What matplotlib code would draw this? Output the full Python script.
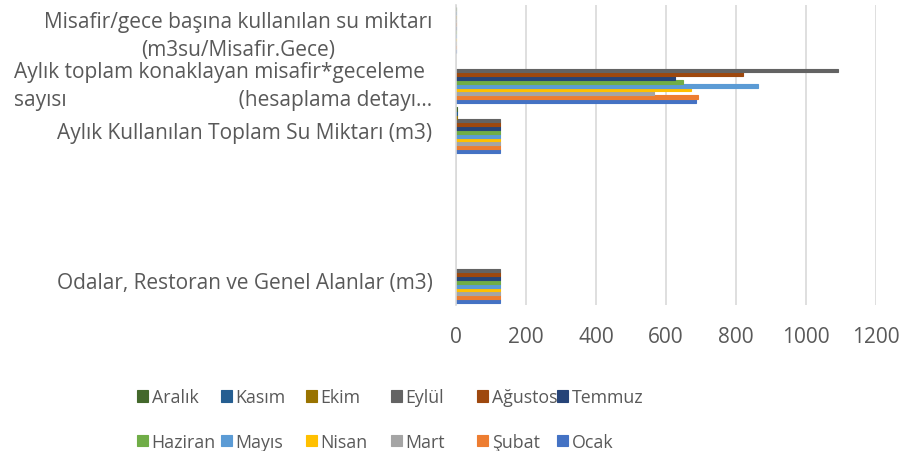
import matplotlib
matplotlib.use("Agg")
import matplotlib.pyplot as plt
import numpy as np

plt.rcParams['font.family'] = ['Open Sans', 'DejaVu Sans']

categories = [
    "Odalar, Restoran ve Genel Alanlar (m3)",
    "",
    "",
    "Aylık Kullanılan Toplam Su Miktarı (m3)",
    "Aylık toplam konaklayan misafir*geceleme\nsayısı                                (hesaplama detayı…",
    "Misafir/gece başına kullanılan su miktarı\n(m3su/Misafir.Gece)",
]

months = ["Ocak", "Şubat", "Mart", "Nisan", "Mayıs", "Haziran",
          "Temmuz", "Ağustos", "Eylül", "Ekim", "Kasım", "Aralık"]

colors = ["#4472C4", "#ED7D31", "#A5A5A5", "#FFC000", "#5B9BD5", "#70AD47",
          "#264478", "#9E480E", "#636363", "#997300", "#255E91", "#43682B"]

nan = np.nan
# values per month, order of categories above
odalar = [125, 125, 125, 125, 125, 125, 125, 125, 125, nan, nan, nan]
bos1 = [nan] * 12
bos2 = [nan] * 12
toplam_su = [125, 125, 125, 125, 125, 125, 125, 125, 125, 2, 2, 2]
misafir_gece = [685, 690, 565, 670, 862, 648, 627, 821, 1090, nan, nan, nan]
su_per_misafir = [0.18, 0.18, 0.22, 0.19, 0.15, 0.19, 0.20, 0.15, 0.11, 0.5, 0.5, 0.5]

data = np.array([odalar, bos1, bos2, toplam_su, misafir_gece, su_per_misafir], dtype=float)

fig = plt.figure(figsize=(8.99, 4.52), dpi=100)
ax = fig.add_axes([456/899, 1-306/452, (876-456)/899, 300/452])

n = len(months)
group = 0.906
h = group / n
ypos = np.arange(len(categories))
handles = []
for i, m in enumerate(months):
    vals = data[:, i]
    y = ypos - group/2 + (i + 0.5) * h
    b = ax.barh(y, vals, height=h, color=colors[i], label=m,
                edgecolor=colors[i], linewidth=0.8)
    handles.append(b)

ax.set_xlim(0, 1200)
ax.set_ylim(-0.5, len(categories) - 0.5)
ax.set_xticks([0, 200, 400, 600, 800, 1000, 1200])
ax.set_yticks(ypos)
ax.set_yticklabels(categories)
txtc = "#595959"
fs = 15
ax.tick_params(axis='y', length=0, pad=17, labelsize=fs, labelcolor=txtc)
ax.tick_params(axis='x', length=0, pad=15, labelsize=fs, labelcolor=txtc)
labels = ax.get_yticklabels()
for lbl in labels:
    lbl.set_linespacing(1.4)
labels[4].set_multialignment('left')
labels[5].set_multialignment('center')

ax.grid(axis='x', color="#D9D9D9", linewidth=1.2)
ax.set_axisbelow(True)
for s in ['top', 'right', 'bottom']:
    ax.spines[s].set_visible(False)
ax.spines['left'].set_color("#D9D9D9")
ax.spines['left'].set_linewidth(1.2)

# legend: 6 columns, 2 rows (top row Aralık..Temmuz, bottom row Haziran..Ocak)
col_x = [137, 221, 306, 391, 477, 557]
top_row = [11, 10, 9, 8, 7, 6]
bottom_row = [5, 4, 3, 2, 1, 0]
lfs = 12.8
for c in range(6):
    ks = [top_row[c], bottom_row[c]]
    lg = fig.legend([handles[k] for k in ks], [months[k] for k in ks],
                    loc='center left', bbox_to_anchor=(col_x[c]/899, 1-420.5/452),
                    frameon=False, fontsize=lfs, handlelength=0.6, handleheight=0.6,
                    handletextpad=0.22, labelspacing=1.5, borderpad=0,
                    borderaxespad=0, labelcolor=txtc)

fig.savefig("out.png", dpi=100)
